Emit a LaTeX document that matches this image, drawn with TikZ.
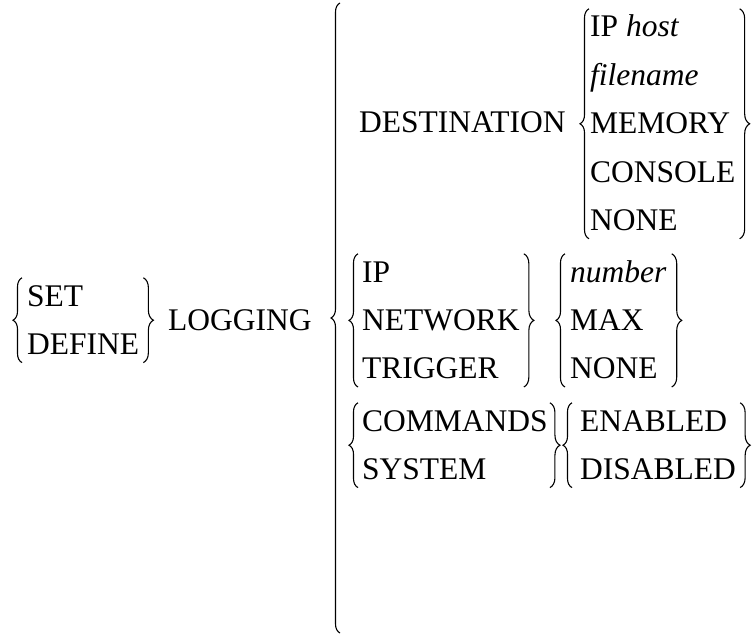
\documentclass[tikz,border=0pt]{standalone}
\usepackage{fontspec}
\setmainfont{Liberation Serif}
\usetikzlibrary{positioning}
\usetikzlibrary{decorations.pathreplacing}

\begin{document}
\begin{tikzpicture}[x=1pt, y=1pt, node distance=12pt,
    every node/.style = {font=\fontsize{31.5}{38}\selectfont},
    word/.style = {inner sep=0pt, text height=28pt, text depth=8pt, anchor=west},
    stack/.style = {below=of #1.south west, anchor=north west},
    lbrace/.style = {decorate, line width=1.1pt, decoration={brace, amplitude=9pt, raise=#1}},
    rbrace/.style = {decorate, line width=1.1pt, decoration={brace, amplitude=10pt, raise=#1}}]
  \useasboundingbox (0,0) rectangle (754,-636);
  % SET / DEFINE LOGGING
  \node[word](set) at (27,-296) {SET};
  \node[word, stack=set](define) {DEFINE};
  \node[word](logging) at (168,-320) {LOGGING};
  \coordinate (bigtop) at (340,-3);
  \coordinate (bigbot) at (340,-633);
  % DESTINATION
  \node[word](dest) at (359,-123) {DESTINATION};
  \node[word](iphost) at (590,-27) {IP \textit{host}};
  \node[word, stack=iphost](filename) {\textit{filename}};
  \node[word, stack=filename](memory) {MEMORY};
  \node[word, stack=memory](console) {CONSOLE};
  \node[word, stack=console](dnone) {NONE};
  % IP / NETWORK / TRIGGER
  \node[word](ip) at (362,-272) {IP};
  \node[word, stack=ip](network) {NETWORK};
  \node[word, stack=network](trigger) {TRIGGER};
  \node[word](number) at (570,-272) {\textit{number}};
  \node[word, stack=number](max) {MAX};
  \node[word, stack=max](nnone) {NONE};
  % COMMANDS / SYSTEM
  \node[word](commands) at (362,-421) {COMMANDS};
  \node[word, stack=commands](system) {SYSTEM};
  \node[word](enabled) at (580,-421) {ENABLED};
  \node[word, stack=enabled](disabled) {DISABLED};
  % braces
  \draw[lbrace=5pt] (define.south west) -- (set.north west);
  \draw[rbrace=4pt] (set.north -| define.east) -- (define.south east);
  \draw[lbrace=0pt] (bigbot) -- (bigtop);
  \draw[lbrace=1pt] (dnone.south west) -- (iphost.north west);
  \draw[rbrace=4pt] (iphost.north -| console.east) -- (dnone.south -| console.east);
  \draw[lbrace=4pt] (trigger.south west) -- (ip.north west);
  \draw[rbrace=4pt] (ip.north -| network.east) -- (trigger.south -| network.east);
  \draw[lbrace=5pt] (nnone.south west) -- (number.north west);
  \draw[rbrace=5pt] (number.north east) -- (nnone.south -| number.east);
  \draw[lbrace=4pt] (system.south west) -- (commands.north west);
  \draw[rbrace=2pt] (commands.north east) -- (system.south -| commands.east);
  \draw[lbrace=8pt] (disabled.south west) -- (enabled.north west);
  \draw[rbrace=4pt] (enabled.north -| disabled.east) -- (disabled.south east);
\end{tikzpicture}
\end{document}
